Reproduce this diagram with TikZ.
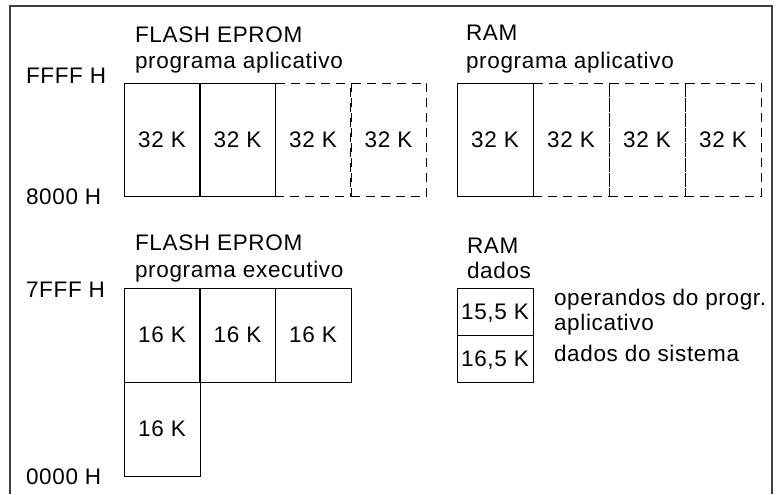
\documentclass[tikz,border=0pt]{standalone}
\usepackage{fontspec}
\setmainfont{Liberation Sans}[LetterSpace=3]

\begin{document}
\begin{tikzpicture}[x=0.5pt,y=-0.5pt,
  txt/.style={font=\fontsize{11.25}{13.5}\selectfont,inner sep=0pt,outer sep=0pt},
  lbl/.style={txt,anchor=base west},
  blk/.style={txt,draw,line width=0.5pt,minimum width=38pt,text depth=0pt},
  blkdash/.style={blk,dash pattern=on 4.5pt off 3pt}]
\useasboundingbox (0,0) rectangle (780,494);

\def\hA{56.5pt}
\def\hE{47pt}
\def\hD{23.5pt}

% frame
\draw [line width=0.6pt,black!75] (10,494) -- (10,6) -- (772,6) -- (772,494);

% addresses
\node [lbl] (FFFF) at (26,83)  {FFFF H};
\node [lbl] (A8000) at (26,204) {8000 H};
\node [lbl] (A7FFF) at (26,297) {7FFF H};
\node [lbl] (A0000) at (26,484) {0000 H};

% flash eprom, programa aplicativo
\node [lbl] (tFA) at (135,42) {FLASH EPROM};
\node [lbl] (sFA) at (135,68) {programa aplicativo};
\node [blkdash,minimum height=\hA] (FA3) at (313,139.5) {32 K};
\node [blkdash,minimum height=\hA] (FA4) at (388.5,139.5) {32 K};
\node [blk,minimum height=\hA] (FA1) at (162,139.5) {32 K};
\node [blk,minimum height=\hA] (FA2) at (237.5,139.5) {32 K};

% ram, programa aplicativo
\node [lbl] (tRA) at (466,40) {RAM};
\node [lbl] (sRA) at (466,68) {programa aplicativo};
\node [blkdash,minimum height=\hA] (RA2) at (571,139.5) {32 K};
\node [blkdash,minimum height=\hA] (RA3) at (647,139.5) {32 K};
\node [blkdash,minimum height=\hA] (RA4) at (723,139.5) {32 K};
\node [blk,minimum height=\hA] (RA1) at (495,139.5) {32 K};

% flash eprom, programa executivo
\node [lbl] (tFE) at (135,250) {FLASH EPROM};
\node [lbl] (sFE) at (135,277) {programa executivo};
\node [blk,minimum height=\hE] (FE1) at (162,335) {16 K};
\node [blk,minimum height=\hE] (FE2) at (237.5,335) {16 K};
\node [blk,minimum height=\hE] (FE3) at (313,335) {16 K};
\node [blk,minimum height=\hE] (FE4) at (162,429) {16 K};

% ram, dados
\node [lbl] (tRD) at (467,253) {RAM};
\node [lbl] (sRD) at (467,278) {dados};
\node [blk,minimum height=\hD] (RD1) at (495,311.5) {15,5 K};
\node [blk,minimum height=\hD] (RD2) at (495,358.5) {16,5 K};
\node [lbl] (nRD1) at (554,305) {operandos do progr.};
\node [lbl] (nRD1b) at (554,330) {aplicativo};
\node [lbl] (nRD2) at (554,361) {dados do sistema};

\end{tikzpicture}
\end{document}
